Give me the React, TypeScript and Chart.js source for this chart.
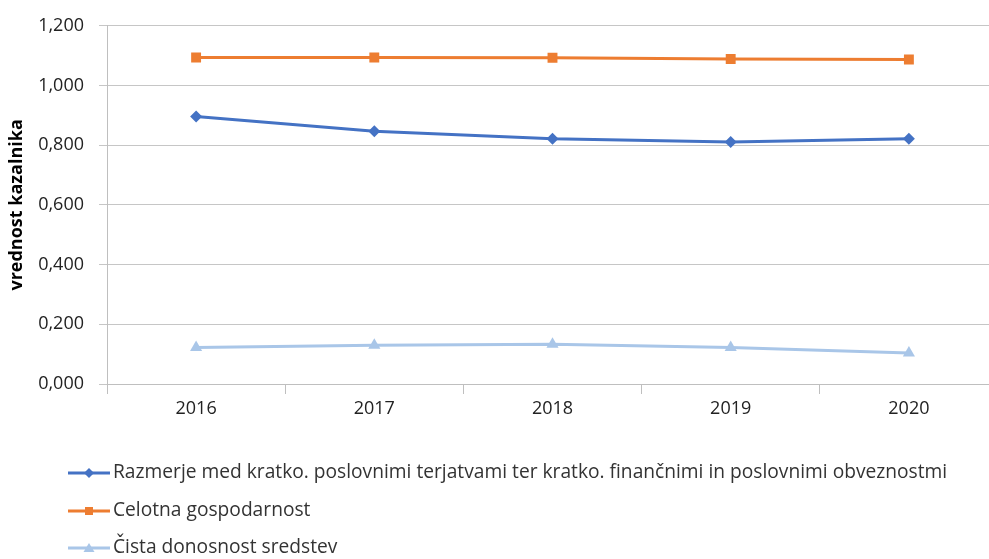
import React, { useEffect, useRef } from "react";
import { Chart, registerables } from "chart.js";

Chart.register(...registerables);

const categories = ["2016", "2017", "2018", "2019", "2020"];
const seriesNames = [
  "Razmerje med kratko. poslovnimi terjatvami ter kratko. finančnimi in poslovnimi obveznostmi",
  "Celotna gospodarnost",
  "Čista donosnost sredstev",
];
const razmerje = [0.896, 0.847, 0.822, 0.811, 0.822];
const gospodarnost = [1.094, 1.094, 1.093, 1.089, 1.087];
const donosnost = [0.122, 0.13, 0.133, 0.122, 0.104];
const yTicks = [0, 0.2, 0.4, 0.6, 0.8, 1.0, 1.2];
const yTitle = "vrednost kazalnika";

const FONT = "'Open Sans', 'Noto Sans', sans-serif";
const COLORS = ["#4472C4", "#ED7D31", "#A9C6E8"];
const MARKERS = ["rectRot", "rect", "triangle"];
const RADII = [6, 7, 7];

const legendPlugin = {
  id: "customLegend",
  afterDraw(chart: any) {
    const ctx = chart.ctx;
    const rows = [473, 511, 548];
    ctx.save();
    chart.data.datasets.forEach((ds: any, i: number) => {
      const y = rows[i];
      ctx.strokeStyle = ds.borderColor;
      ctx.lineWidth = 3;
      ctx.beginPath();
      ctx.moveTo(68, y);
      ctx.lineTo(110, y);
      ctx.stroke();
      ctx.fillStyle = ds.borderColor;
      const style = ds.pointStyle;
      ctx.beginPath();
      if (style === "rectRot") {
        ctx.moveTo(89, y - 5);
        ctx.lineTo(94, y);
        ctx.lineTo(89, y + 5);
        ctx.lineTo(84, y);
      } else if (style === "rect") {
        ctx.rect(85, y - 4, 8, 8);
      } else {
        ctx.moveTo(89, y - 5);
        ctx.lineTo(94.5, y + 4);
        ctx.lineTo(83.5, y + 4);
      }
      ctx.closePath();
      ctx.fill();
      ctx.fillStyle = "#333333";
      ctx.font = `19.2px ${FONT}`;
      ctx.textAlign = "left";
      ctx.textBaseline = "middle";
      ctx.fillText(ds.label, 113, y);
    });
    ctx.restore();
  },
};

export default function App() {
  const ref = useRef<HTMLCanvasElement | null>(null);
  useEffect(() => {
    document.body.style.margin = "0";
    const canvas = ref.current!;
    const data = [razmerje, gospodarnost, donosnost];
    const chart = new Chart(canvas, {
      type: "line",
      data: {
        labels: categories,
        datasets: data.map((d, i) => ({
          label: seriesNames[i],
          data: d,
          borderColor: COLORS[i],
          backgroundColor: COLORS[i],
          borderWidth: 3,
          pointStyle: MARKERS[i] as any,
          pointRadius: RADII[i],
          pointBorderWidth: 0,
          pointBackgroundColor: COLORS[i],
          tension: 0,
          fill: false,
        })),
      },
      options: {
        animation: false,
        responsive: false,
        devicePixelRatio: 1,
        layout: { padding: { left: 0, right: 0, top: 24, bottom: 135 } },
        plugins: { legend: { display: false }, tooltip: { enabled: false } },
        scales: {
          x: {
            type: "category",
            offset: true,
            grid: {
              offset: true,
              drawOnChartArea: false,
              drawTicks: true,
              tickLength: 10,
              color: "#bfbfbf",
            },
            border: { display: true, color: "#bfbfbf", width: 1 },
            ticks: {
              color: "#222222",
              font: { family: FONT, size: 18 },
              padding: 4,
              maxRotation: 0,
            },
            afterFit: (s: any) => {
              s.height = 40;
            },
          },
          y: {
            min: 0,
            max: 1.2,
            afterBuildTicks: (s: any) => {
              s.ticks = yTicks.map((v) => ({ value: v }));
            },
            grid: {
              color: "#c6c6c6",
              lineWidth: 1,
              drawTicks: true,
              tickLength: 8,
            },
            border: { display: true, color: "#bfbfbf", width: 1 },
            ticks: {
              color: "#222222",
              font: { family: FONT, size: 18 },
              padding: 15,
              callback: (v: any) => Number(v).toFixed(3).replace(".", ","),
            },
            title: {
              display: true,
              text: yTitle,
              color: "#000000",
              font: { family: FONT, size: 18, weight: "bold" },
              padding: { top: 6, bottom: 0 },
            },
            afterFit: (s: any) => {
              s.width = 107;
            },
          },
        },
      },
      plugins: [legendPlugin],
    });
    return () => chart.destroy();
  }, []);
  return (
    <div style={{ position: "fixed", left: 0, top: 0, width: 989, height: 559, overflow: "hidden", background: "#fff" }}>
      <canvas ref={ref} width={1005} height={559} style={{ display: "block", width: 1005, height: 559 }} />
    </div>
  );
}
